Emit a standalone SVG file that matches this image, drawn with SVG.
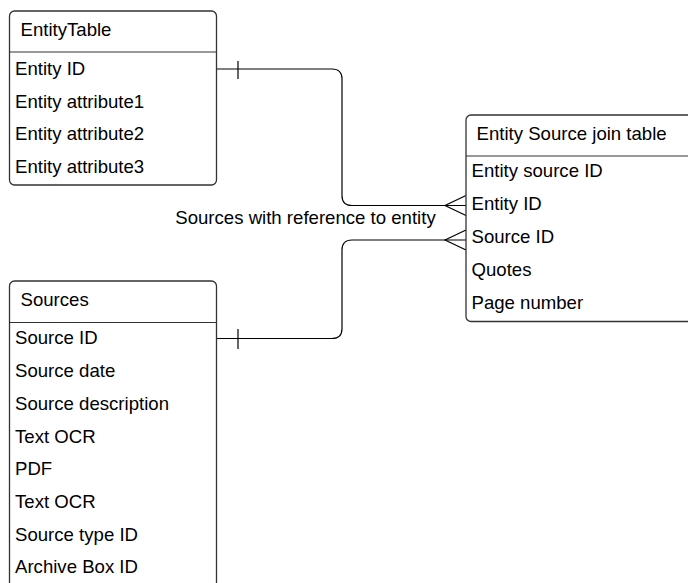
<svg xmlns="http://www.w3.org/2000/svg" width="688" height="583" viewBox="0 0 688 583">
<style>
.box{fill:#fff;stroke:#333;stroke-width:1.3}
.sep{stroke:#333;stroke-width:1.1}
.t{font-family:"Liberation Sans",Arial,sans-serif;font-size:18.6px;fill:#000}
.c{fill:none;stroke:#000;stroke-width:1.2}
</style>
<rect width="688" height="583" fill="#fff"/>
<g id="connectors">
<path class="c" d="M216.5,69 H332 Q342,69 342,79 V195.5 Q342,205.5 352,205.5 H466"/>
<path class="c" d="M238,61 V79"/>
<path class="c" d="M466,195.5 L445,205.5 L466,215.5"/>
<path class="c" d="M216.5,338.5 H332 Q342,338.5 342,328.5 V250 Q342,240 352,240 H466"/>
<path class="c" d="M238,329 V349"/>
<path class="c" d="M466,230 L445,240 L466,250"/>
<text class="t" x="305.5" y="224" text-anchor="middle">Sources with reference to entity</text>
</g>
<g id="entity-table">
<rect class="box" x="9.5" y="11" width="207" height="174" rx="5"/>
<line class="sep" x1="9.5" y1="52" x2="216.5" y2="52"/>
<text class="t" x="20.5" y="35.5">EntityTable</text>
<text class="t" x="15" y="74.5">Entity ID</text>
<text class="t" x="15" y="107.5">Entity attribute1</text>
<text class="t" x="15" y="140">Entity attribute2</text>
<text class="t" x="15" y="172.5">Entity attribute3</text>
</g>
<g id="join-table">
<rect class="box" x="466" y="115" width="240" height="206.5" rx="5"/>
<line class="sep" x1="466" y1="156" x2="688" y2="156"/>
<text class="t" x="476.5" y="140">Entity Source join table</text>
<text class="t" x="471.5" y="176.5">Entity source ID</text>
<text class="t" x="471.5" y="209.5">Entity ID</text>
<text class="t" x="471.5" y="242.5">Source ID</text>
<text class="t" x="471.5" y="275.5">Quotes</text>
<text class="t" x="471.5" y="308.5">Page number</text>
</g>
<g id="sources">
<rect class="box" x="9.5" y="281" width="207" height="320" rx="5"/>
<line class="sep" x1="9.5" y1="322.5" x2="216.5" y2="322.5"/>
<text class="t" x="20.5" y="305.5">Sources</text>
<text class="t" x="15" y="344">Source ID</text>
<text class="t" x="15" y="376.5">Source date</text>
<text class="t" x="15" y="409.5">Source description</text>
<text class="t" x="15" y="442.5">Text OCR</text>
<text class="t" x="15" y="475">PDF</text>
<text class="t" x="15" y="508">Text OCR</text>
<text class="t" x="15" y="541">Source type ID</text>
<text class="t" x="15" y="573">Archive Box ID</text>
</g>
</svg>
